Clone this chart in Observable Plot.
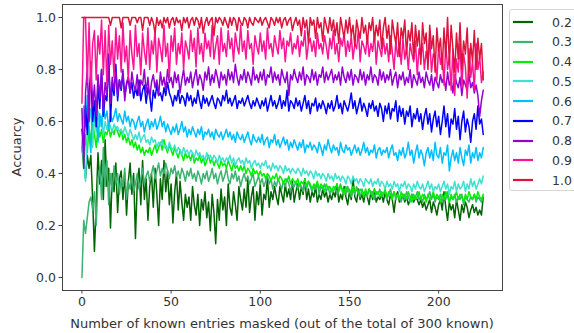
<!DOCTYPE html>
<html>
<head>
<meta charset="utf-8">
<script src="https://cdn.jsdelivr.net/npm/d3@7"></script>
<script src="https://cdn.jsdelivr.net/npm/@observablehq/plot@0.6"></script>
<style>
  html, body { margin: 0; padding: 0; background: #fff; }
  #wrap { position: relative; width: 574px; height: 333px; font-family: "DejaVu Sans", sans-serif; color: #333; }
  #ylab { position: absolute; left: 16px; top: 147px; transform: translate(-50%, -50%) rotate(-90deg); font-size: 13px; white-space: nowrap; }
  #xlab { position: absolute; left: 282px; top: 323px; transform: translate(-50%, -50%); font-size: 13px; white-space: nowrap; }
  #legend { position: absolute; left: 509px; top: 9px; width: 80px; height: 182px; border: 1px solid #d6d6d6; border-radius: 3px; background: #fff; box-sizing: border-box; }
  .item { position: absolute; left: 3px; height: 14px; display: flex; align-items: center; font-size: 12.5px; }
  .item svg { margin-right: 19px; }
</style>
</head>
<body>
<div id="wrap">
  <div id="chart"></div>
  <div id="ylab">Accuarcy</div>
  <div id="xlab">Number of known entries masked (out of the total of 300 known)</div>
  <div id="legend"></div>
</div>
<script>
const seriesNames = ["0.2", "0.3", "0.4", "0.5", "0.6", "0.7", "0.8", "0.9", "1.0"];
const seriesColors = ["#006400", "#3cb371", "#00ee00", "#40e0d0", "#00bfff", "#0000ff", "#9400d3", "#ff1493", "#dc143c"];
const xTicks = [0, 50, 100, 150, 200];
const yTicks = [0, 0.2, 0.4, 0.6, 0.8, 1.0];

const s02 = [
0.5,0.45,0.38,0.47,0.42,0.47,0.3,0.1,0.28,0.48,
0.36,0.45,0.3,0.53,0.35,0.42,0.19,0.4,0.33,0.44,
0.25,0.38,0.41,0.3,0.4,0.24,0.37,0.44,0.32,0.4,
0.15,0.36,0.42,0.28,0.45,0.3,0.38,0.22,0.35,0.4,
0.27,0.42,0.32,0.2,0.38,0.3,0.45,0.33,0.41,0.28,
0.36,0.21,0.33,0.4,0.26,0.37,0.29,0.22,0.32,0.27,
0.31,0.22,0.35,0.28,0.24,0.32,0.2,0.3,0.26,0.33,
0.23,0.29,0.18,0.32,0.25,0.13,0.3,0.22,0.34,0.26,
0.31,0.2,0.36,0.27,0.24,0.33,0.28,0.22,0.35,0.3,
0.26,0.34,0.27,0.38,0.25,0.31,0.35,0.22,0.33,0.28,
0.36,0.24,0.32,0.3,0.38,0.27,0.33,0.3,0.35,0.31,
0.28,0.35,0.32,0.29,0.36,0.31,0.34,0.3,0.37,0.29,
0.33,0.36,0.3,0.35,0.32,0.38,0.3,0.34,0.29,0.33,
0.31,0.35,0.29,0.32,0.3,0.34,0.31,0.33,0.29,0.32,
0.3,0.33,0.31,0.36,0.29,0.32,0.3,0.35,0.31,0.28,
0.33,0.3,0.38,0.31,0.29,0.34,0.3,0.32,0.29,0.33,
0.31,0.28,0.33,0.3,0.34,0.29,0.31,0.3,0.32,0.29,
0.33,0.3,0.28,0.32,0.3,0.25,0.31,0.33,0.29,0.3,
0.32,0.29,0.31,0.28,0.3,0.32,0.29,0.31,0.3,0.28,
0.3,0.27,0.29,0.26,0.28,0.3,0.25,0.29,0.27,0.24,
0.28,0.3,0.26,0.33,0.27,0.22,0.29,0.26,0.28,0.23,
0.3,0.26,0.22,0.28,0.25,0.29,0.27,0.23,0.26,0.28,
0.25,0.27,0.24,0.26,0.24,0.31];

const s03 = [
0.0,0.22,0.17,0.23,0.29,0.31,0.26,0.33,0.2,0.38,
0.42,0.3,0.5,0.35,0.45,0.28,0.4,0.33,0.43,0.36,
0.4,0.32,0.38,0.35,0.42,0.3,0.37,0.34,0.39,0.33,
0.36,0.4,0.34,0.38,0.42,0.36,0.39,0.41,0.37,0.4,
0.43,0.38,0.41,0.44,0.39,0.42,0.4,0.44,0.41,0.38,
0.42,0.4,0.43,0.39,0.41,0.38,0.42,0.4,0.37,0.41,
0.39,0.42,0.38,0.4,0.37,0.41,0.39,0.36,0.4,0.38,
0.41,0.37,0.39,0.42,0.38,0.4,0.36,0.39,0.41,0.37,
0.39,0.42,0.38,0.36,0.4,0.38,0.41,0.37,0.39,0.35,
0.38,0.4,0.37,0.39,0.36,0.38,0.4,0.35,0.37,0.39,
0.36,0.38,0.35,0.37,0.39,0.36,0.38,0.34,0.37,0.35,
0.38,0.36,0.34,0.37,0.35,0.38,0.36,0.33,0.36,0.35,
0.37,0.34,0.36,0.35,0.33,0.36,0.34,0.37,0.35,0.33,
0.35,0.34,0.36,0.32,0.35,0.34,0.36,0.33,0.35,0.32,
0.34,0.33,0.35,0.32,0.34,0.36,0.33,0.34,0.32,0.35,
0.33,0.31,0.34,0.32,0.35,0.33,0.31,0.34,0.32,0.33,
0.31,0.34,0.32,0.33,0.3,0.33,0.32,0.34,0.31,0.32,
0.33,0.3,0.32,0.34,0.31,0.33,0.3,0.32,0.31,0.29,
0.32,0.3,0.33,0.31,0.29,0.32,0.3,0.31,0.33,0.3,
0.31,0.29,0.32,0.3,0.31,0.33,0.3,0.32,0.29,0.31,
0.3,0.32,0.29,0.31,0.3,0.33,0.29,0.31,0.3,0.32,
0.29,0.31,0.3,0.32,0.28,0.31,0.3,0.29,0.31,0.3,
0.32,0.29,0.31,0.3,0.29,0.31];

const s04 = [
0.5,0.42,0.55,0.48,0.58,0.52,0.6,0.55,0.5,0.58,
0.54,0.57,0.52,0.56,0.55,0.58,0.54,0.57,0.55,0.58,
0.56,0.54,0.57,0.53,0.55,0.52,0.54,0.51,0.53,0.5,
0.52,0.49,0.51,0.48,0.5,0.47,0.49,0.48,0.5,0.47,
0.49,0.51,0.48,0.5,0.52,0.49,0.53,0.5,0.48,0.51,
0.49,0.47,0.5,0.48,0.46,0.49,0.47,0.45,0.48,0.46,
0.47,0.45,0.48,0.44,0.46,0.45,0.47,0.44,0.46,0.43,
0.45,0.47,0.44,0.46,0.43,0.45,0.44,0.42,0.45,0.43,
0.44,0.42,0.45,0.43,0.41,0.44,0.42,0.43,0.41,0.43,
0.41,0.43,0.4,0.42,0.41,0.39,0.42,0.4,0.41,0.39,
0.41,0.39,0.4,0.38,0.4,0.39,0.37,0.39,0.38,0.4,
0.37,0.39,0.38,0.36,0.38,0.37,0.39,0.36,0.38,0.37,
0.36,0.38,0.35,0.37,0.36,0.38,0.35,0.37,0.36,0.34,
0.36,0.35,0.37,0.34,0.36,0.35,0.33,0.36,0.34,0.35,
0.33,0.35,0.34,0.36,0.33,0.35,0.34,0.32,0.35,0.33,
0.34,0.32,0.35,0.33,0.34,0.32,0.34,0.33,0.31,0.34,
0.32,0.34,0.33,0.31,0.34,0.32,0.33,0.31,0.33,0.32,
0.34,0.31,0.33,0.32,0.3,0.33,0.31,0.32,0.3,0.33,
0.31,0.32,0.3,0.33,0.31,0.29,0.32,0.3,0.31,0.33,
0.3,0.32,0.31,0.29,0.32,0.3,0.31,0.33,0.3,0.32,
0.31,0.29,0.32,0.3,0.33,0.31,0.29,0.32,0.3,0.31,
0.33,0.3,0.32,0.31,0.29,0.32,0.3,0.33,0.31,0.3,
0.32,0.3,0.33,0.31,0.3,0.32];

const s05 = [
0.5,0.45,0.37,0.55,0.6,0.65,0.5,0.62,0.56,0.64,
0.58,0.62,0.55,0.6,0.57,0.6,0.58,0.56,0.59,0.57,
0.58,0.56,0.57,0.55,0.58,0.56,0.54,0.57,0.55,0.53,
0.55,0.53,0.56,0.52,0.54,0.55,0.52,0.53,0.51,0.54,
0.52,0.53,0.5,0.52,0.51,0.53,0.5,0.51,0.49,0.52,
0.5,0.49,0.51,0.48,0.5,0.49,0.47,0.5,0.48,0.49,
0.47,0.49,0.48,0.46,0.49,0.47,0.48,0.46,0.47,0.45,
0.48,0.46,0.47,0.45,0.47,0.46,0.44,0.47,0.45,0.46,
0.44,0.46,0.45,0.47,0.44,0.46,0.43,0.45,0.46,0.44,
0.45,0.43,0.46,0.44,0.45,0.42,0.44,0.45,0.43,0.44,
0.42,0.44,0.43,0.45,0.42,0.43,0.41,0.44,0.42,0.43,
0.41,0.43,0.42,0.4,0.43,0.41,0.42,0.4,0.42,0.41,
0.4,0.42,0.41,0.39,0.42,0.4,0.41,0.39,0.41,0.4,
0.38,0.41,0.39,0.4,0.38,0.4,0.39,0.37,0.4,0.38,
0.39,0.37,0.4,0.38,0.39,0.37,0.39,0.38,0.36,0.39,
0.38,0.36,0.39,0.37,0.38,0.36,0.38,0.37,0.35,0.38,
0.37,0.36,0.38,0.35,0.37,0.36,0.38,0.35,0.37,0.36,
0.34,0.37,0.35,0.36,0.34,0.37,0.35,0.36,0.33,0.36,
0.35,0.37,0.34,0.36,0.35,0.33,0.36,0.34,0.37,0.35,
0.34,0.36,0.33,0.35,0.37,0.34,0.36,0.33,0.35,0.34,
0.36,0.33,0.35,0.37,0.34,0.36,0.32,0.35,0.34,0.37,
0.33,0.36,0.34,0.35,0.37,0.33,0.36,0.34,0.38,0.35,
0.37,0.34,0.36,0.38,0.36,0.39];

const s06 = [
0.5,0.66,0.58,0.7,0.55,0.48,0.68,0.6,0.65,0.52,
0.63,0.58,0.66,0.61,0.64,0.57,0.63,0.6,0.62,0.65,
0.6,0.63,0.61,0.59,0.64,0.6,0.62,0.58,0.61,0.6,
0.57,0.6,0.62,0.58,0.6,0.56,0.59,0.61,0.57,0.6,
0.58,0.61,0.57,0.59,0.62,0.58,0.6,0.56,0.59,0.57,
0.55,0.58,0.56,0.59,0.55,0.57,0.6,0.56,0.58,0.54,
0.57,0.55,0.58,0.56,0.54,0.57,0.55,0.58,0.53,0.56,
0.55,0.57,0.54,0.56,0.53,0.57,0.55,0.54,0.56,0.53,
0.55,0.57,0.54,0.56,0.53,0.55,0.52,0.56,0.54,0.53,
0.55,0.52,0.54,0.56,0.53,0.51,0.55,0.53,0.52,0.54,
0.52,0.55,0.51,0.53,0.54,0.5,0.53,0.52,0.55,0.51,
0.53,0.5,0.52,0.54,0.51,0.53,0.49,0.52,0.5,0.53,
0.51,0.49,0.52,0.5,0.53,0.48,0.51,0.5,0.52,0.49,
0.51,0.5,0.48,0.52,0.5,0.47,0.51,0.49,0.53,0.5,
0.48,0.51,0.49,0.5,0.47,0.52,0.49,0.48,0.51,0.49,
0.5,0.47,0.49,0.51,0.48,0.5,0.47,0.49,0.52,0.48,
0.5,0.47,0.49,0.48,0.51,0.46,0.49,0.5,0.47,0.49,
0.48,0.5,0.46,0.49,0.51,0.47,0.48,0.45,0.49,0.47,
0.5,0.46,0.48,0.52,0.47,0.49,0.44,0.48,0.51,0.46,
0.49,0.47,0.43,0.48,0.5,0.46,0.49,0.45,0.52,0.47,
0.46,0.5,0.44,0.48,0.47,0.51,0.41,0.46,0.49,0.45,
0.48,0.44,0.5,0.46,0.43,0.49,0.47,0.51,0.44,0.48,
0.46,0.5,0.45,0.48,0.46,0.5];

const s07 = [
0.57,0.5,0.66,0.55,0.72,0.78,0.6,0.68,0.58,0.74,
0.65,0.8,0.62,0.7,0.68,0.86,0.6,0.75,0.7,0.82,
0.68,0.76,0.72,0.78,0.7,0.74,0.77,0.71,0.75,0.69,
0.73,0.7,0.76,0.68,0.72,0.74,0.67,0.73,0.7,0.64,
0.72,0.69,0.74,0.7,0.71,0.68,0.73,0.7,0.75,0.71,
0.69,0.66,0.7,0.68,0.72,0.67,0.7,0.69,0.66,0.71,
0.68,0.7,0.66,0.69,0.67,0.72,0.68,0.65,0.7,0.67,
0.69,0.66,0.68,0.7,0.67,0.65,0.69,0.68,0.66,0.7,
0.68,0.72,0.67,0.69,0.66,0.68,0.7,0.65,0.68,0.67,
0.69,0.66,0.68,0.7,0.67,0.65,0.68,0.66,0.69,0.67,
0.65,0.68,0.66,0.69,0.64,0.67,0.7,0.66,0.68,0.65,
0.67,0.7,0.65,0.68,0.66,0.72,0.64,0.68,0.67,0.65,
0.69,0.66,0.68,0.64,0.67,0.7,0.65,0.68,0.63,0.67,
0.66,0.69,0.64,0.67,0.65,0.68,0.66,0.63,0.67,0.65,
0.68,0.64,0.66,0.7,0.65,0.67,0.63,0.68,0.66,0.64,
0.67,0.71,0.65,0.68,0.63,0.66,0.69,0.64,0.67,0.65,
0.62,0.67,0.65,0.68,0.64,0.66,0.62,0.67,0.65,0.6,
0.66,0.63,0.67,0.61,0.65,0.64,0.68,0.6,0.66,0.62,
0.65,0.59,0.64,0.62,0.66,0.58,0.63,0.61,0.65,0.6,
0.63,0.57,0.62,0.65,0.59,0.63,0.56,0.61,0.64,0.58,
0.62,0.55,0.6,0.66,0.58,0.63,0.54,0.61,0.59,0.65,
0.57,0.62,0.53,0.6,0.64,0.56,0.61,0.58,0.52,0.6,
0.63,0.57,0.66,0.59,0.61,0.55];

const s08 = [
0.65,0.42,0.71,0.8,0.6,0.83,0.66,0.74,0.62,0.78,
0.69,0.8,0.64,0.75,0.7,0.82,0.67,0.77,0.72,0.79,
0.7,0.76,0.73,0.8,0.68,0.75,0.77,0.71,0.79,0.74,
0.72,0.78,0.7,0.76,0.74,0.8,0.71,0.77,0.69,0.75,
0.78,0.73,0.76,0.7,0.79,0.74,0.77,0.72,0.8,0.75,
0.77,0.73,0.79,0.75,0.78,0.71,0.76,0.8,0.74,0.77,
0.75,0.79,0.73,0.77,0.8,0.74,0.78,0.76,0.72,0.79,
0.76,0.81,0.74,0.78,0.75,0.8,0.77,0.73,0.79,0.76,
0.78,0.74,0.8,0.76,0.79,0.75,0.82,0.77,0.74,0.78,
0.76,0.8,0.75,0.79,0.77,0.74,0.81,0.76,0.78,0.75,
0.79,0.76,0.8,0.74,0.78,0.77,0.81,0.75,0.79,0.76,
0.78,0.74,0.8,0.77,0.75,0.79,0.7,0.78,0.76,0.8,
0.77,0.75,0.79,0.76,0.81,0.74,0.78,0.77,0.75,0.8,
0.76,0.79,0.74,0.78,0.77,0.81,0.75,0.79,0.76,0.78,
0.8,0.75,0.78,0.76,0.79,0.74,0.81,0.77,0.75,0.79,
0.76,0.8,0.74,0.78,0.77,0.75,0.8,0.76,0.79,0.74,
0.78,0.76,0.81,0.75,0.78,0.77,0.74,0.8,0.76,0.79,
0.75,0.78,0.76,0.8,0.74,0.77,0.79,0.73,0.78,0.76,
0.79,0.74,0.77,0.75,0.8,0.73,0.78,0.76,0.74,0.79,
0.75,0.77,0.73,0.79,0.76,0.74,0.78,0.72,0.77,0.75,
0.73,0.78,0.75,0.77,0.72,0.79,0.74,0.76,0.71,0.78,
0.75,0.73,0.77,0.7,0.76,0.74,0.72,0.78,0.73,0.75,
0.71,0.74,0.7,0.62,0.68,0.72];

const s09 = [
0.67,1.0,1.0,0.75,0.98,0.72,0.9,0.95,0.76,0.93,
0.86,0.99,0.78,0.95,0.74,0.97,0.82,0.91,0.77,0.96,
0.84,0.93,0.79,0.98,0.83,0.89,0.76,0.95,0.86,0.8,
0.97,0.85,0.9,0.78,0.94,0.87,0.82,0.96,0.8,0.91,
0.86,0.95,0.79,0.92,0.88,0.83,0.97,0.85,0.9,0.77,
0.93,0.87,0.96,0.82,0.9,0.86,0.94,0.8,0.91,0.88,
0.84,0.95,0.87,0.92,0.81,0.96,0.86,0.9,0.83,0.94,
0.88,0.91,0.85,0.97,0.84,0.89,0.93,0.82,0.96,0.87,
0.9,0.85,0.95,0.88,0.92,0.83,0.94,0.89,0.86,0.97,
0.87,0.91,0.84,0.95,0.88,0.9,0.82,0.93,0.89,0.86,
0.94,0.87,0.91,0.84,0.96,0.88,0.9,0.85,0.93,0.89,
0.86,0.95,0.88,0.92,0.83,0.91,0.89,0.94,0.86,0.9,
0.88,0.93,0.85,0.91,0.89,0.95,0.84,0.9,0.92,0.87,
0.91,0.85,0.94,0.88,0.9,0.86,0.93,0.89,0.84,0.92,
0.88,0.95,0.86,0.9,0.83,0.92,0.89,0.94,0.85,0.91,
0.87,0.93,0.84,0.9,0.88,0.95,0.83,0.91,0.89,0.86,
0.93,0.85,0.9,0.87,0.94,0.82,0.91,0.88,0.85,0.92,
0.86,0.9,0.83,0.93,0.87,0.8,0.91,0.85,0.89,0.82,
0.92,0.84,0.88,0.8,0.9,0.86,0.83,0.91,0.78,0.88,
0.85,0.9,0.8,0.87,0.83,0.92,0.79,0.86,0.84,0.76,
0.89,0.82,0.86,0.74,0.9,0.8,0.85,0.72,0.88,0.7,
0.84,0.79,0.9,0.73,0.86,0.81,0.69,0.88,0.77,0.83,
0.72,0.9,0.8,0.85,0.75,0.79];

const s10 = [
1.0,1.0,1.0,1.0,1.0,1.0,1.0,1.0,1.0,1.0,
1.0,1.0,1.0,1.0,1.0,1.0,0.97,1.0,1.0,1.0,
1.0,1.0,0.96,1.0,1.0,1.0,1.0,0.97,1.0,1.0,
1.0,0.98,1.0,1.0,0.95,1.0,1.0,1.0,0.97,1.0,
0.98,0.94,1.0,0.97,0.99,0.96,1.0,0.98,1.0,0.96,
0.99,1.0,0.97,1.0,0.98,0.99,0.95,1.0,0.98,1.0,
0.96,0.99,1.0,0.97,1.0,0.99,0.96,1.0,0.94,0.98,
1.0,0.97,0.99,1.0,0.93,1.0,0.98,1.0,0.99,0.97,
1.0,0.98,0.96,1.0,0.97,1.0,0.99,0.95,1.0,0.98,
0.97,1.0,0.99,0.96,1.0,0.98,0.97,1.0,0.99,0.98,
1.0,0.97,0.99,1.0,0.98,0.96,1.0,0.99,0.97,1.0,
0.98,1.0,0.96,0.99,1.0,0.97,0.99,1.0,0.95,0.98,
1.0,0.97,0.99,0.93,1.0,0.96,0.99,0.9,1.0,0.97,
0.99,0.92,1.0,0.96,0.98,0.91,1.0,0.97,0.94,1.0,
0.95,0.99,0.93,0.98,0.9,1.0,0.96,0.92,0.99,0.94,
1.0,0.93,0.97,0.89,0.99,0.95,0.92,1.0,0.94,0.97,
0.9,0.98,0.95,1.0,0.91,0.97,0.93,0.99,0.88,0.96,
1.0,0.92,0.97,0.86,0.99,0.94,0.9,0.98,0.85,0.96,
0.92,0.99,0.86,0.95,0.91,0.98,0.84,0.97,0.89,0.95,
0.82,0.98,0.9,0.94,0.8,0.97,0.88,0.93,0.79,0.96,
0.87,0.92,0.8,0.96,0.85,1.0,0.82,0.97,0.88,0.79,
0.94,0.84,0.98,0.8,0.91,0.86,0.96,0.78,0.9,0.83,
0.95,0.8,0.92,0.84,0.9,0.76];

const seriesValues = [s02, s03, s04, s05, s06, s07, s08, s09, s10];

const rows = seriesNames.flatMap((name, i) =>
  seriesValues[i].map((v, x) => ({x, y: v, series: name}))
);

const chart = Plot.plot({
  width: 574,
  height: 333,
  marginLeft: 62,
  marginRight: 72,
  marginTop: 4,
  marginBottom: 43,
  style: {fontFamily: "DejaVu Sans, sans-serif", fontSize: "12.5px", color: "#333", background: "#fff"},
  x: {domain: [-10.9, 235.8], label: null},
  y: {domain: [-0.05, 1.05], label: null},
  color: {domain: seriesNames, range: seriesColors},
  marks: [
    Plot.lineY(rows, {x: "x", y: "y", stroke: "series", z: "series", strokeWidth: 1.5, strokeLinejoin: "round"}),
    Plot.frame({stroke: "#444", strokeWidth: 1}),
    Plot.axisX({ticks: xTicks, tickSize: 3.5, tickPadding: 3, label: null, stroke: "#444"}),
    Plot.axisY({ticks: yTicks, tickSize: 3.5, tickPadding: 3, tickFormat: d3.format(".1f"), label: null, stroke: "#444"})
  ]
});
document.getElementById("chart").appendChild(chart);

const legend = document.getElementById("legend");
seriesNames.forEach((name, i) => {
  const item = document.createElement("div");
  item.className = "item";
  item.style.top = (5 + i * 19.75) + "px";
  item.innerHTML = `<svg width="20" height="4"><line x1="0" y1="2" x2="20" y2="2" stroke="${seriesColors[i]}" stroke-width="2.2"/></svg><span>${name}</span>`;
  legend.appendChild(item);
});
</script>
</body>
</html>
